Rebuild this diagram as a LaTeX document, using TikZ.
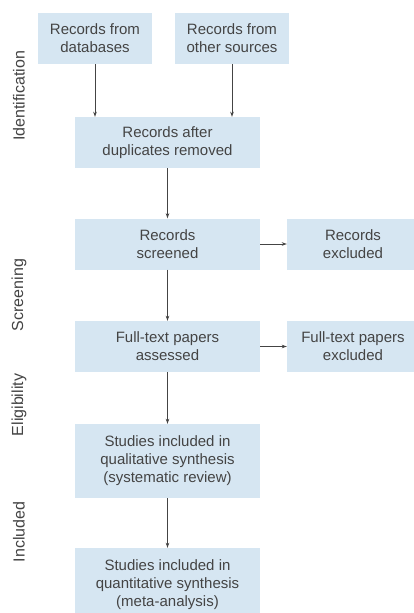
\documentclass[tikz,border=0pt]{standalone}
\usepackage{fontspec}
\setmainfont{Liberation Sans}
\usetikzlibrary{arrows.meta}
\definecolor{boxblue}{RGB}{214,230,242}
\definecolor{inkgrey}{RGB}{68,68,68}
\begin{document}
\begin{tikzpicture}[x=1pt, y=-1pt,
  every node/.style={font=\fontsize{15}{18}\selectfont, text=inkgrey},
  box/.style={fill=boxblue, align=center, minimum height=51pt, inner sep=0pt},
  narrow/.style={box, minimum width=114pt},
  wide/.style={box, minimum width=185pt},
  side/.style={rotate=90, font=\fontsize{16}{18}\selectfont},
  arr/.style={draw=inkgrey, line width=0.9pt, -{Stealth[length=5pt,width=3.5pt]}}]
\fill[white] (0,0) rectangle (414,613);
\useasboundingbox (0,0) rectangle (414,613);
% stage labels
\node[side] (ident) at (19,96) {Identification};
\node[side] (screen) at (19,295) {Screening};
\node[side] (elig) at (19,405) {Eligibility};
\node[side] (incl) at (19,532) {Included};
% boxes
\node[narrow] (db) at (95,38.5) {Records from\\databases};
\node[narrow] (other) at (232,38.5) {Records from\\other sources};
\node[wide] (dup) at (167.5,142.5) {Records after\\duplicates removed};
\node[wide] (scr) at (167.5,244) {Records\\screened};
\node[box, minimum width=132pt] (exscr) at (353,244) {Records\\excluded};
\node[wide] (full) at (167.5,346.5) {Full-text papers\\assessed};
\node[box, minimum width=132pt] (exfull) at (353,346.5) {Full-text papers\\excluded};
\node[wide, minimum height=74pt] (qual) at (167.5,461) {Studies included in\\qualitative synthesis\\(systematic review)};
\node[wide, minimum height=74pt] (quant) at (167.5,585) {Studies included in\\quantitative synthesis\\(meta-analysis)};
% arrows
\draw[arr] (db.south) -- (db.south |- dup.north);
\draw[arr] (other.south) -- (other.south |- dup.north);
\draw[arr] (dup) -- (scr);
\draw[arr] (scr) -- (exscr);
\draw[arr] (scr) -- (full);
\draw[arr] (full) -- (exfull);
\draw[arr] (full) -- (qual);
\draw[arr] (qual) -- (quant);
\end{tikzpicture}
\end{document}
